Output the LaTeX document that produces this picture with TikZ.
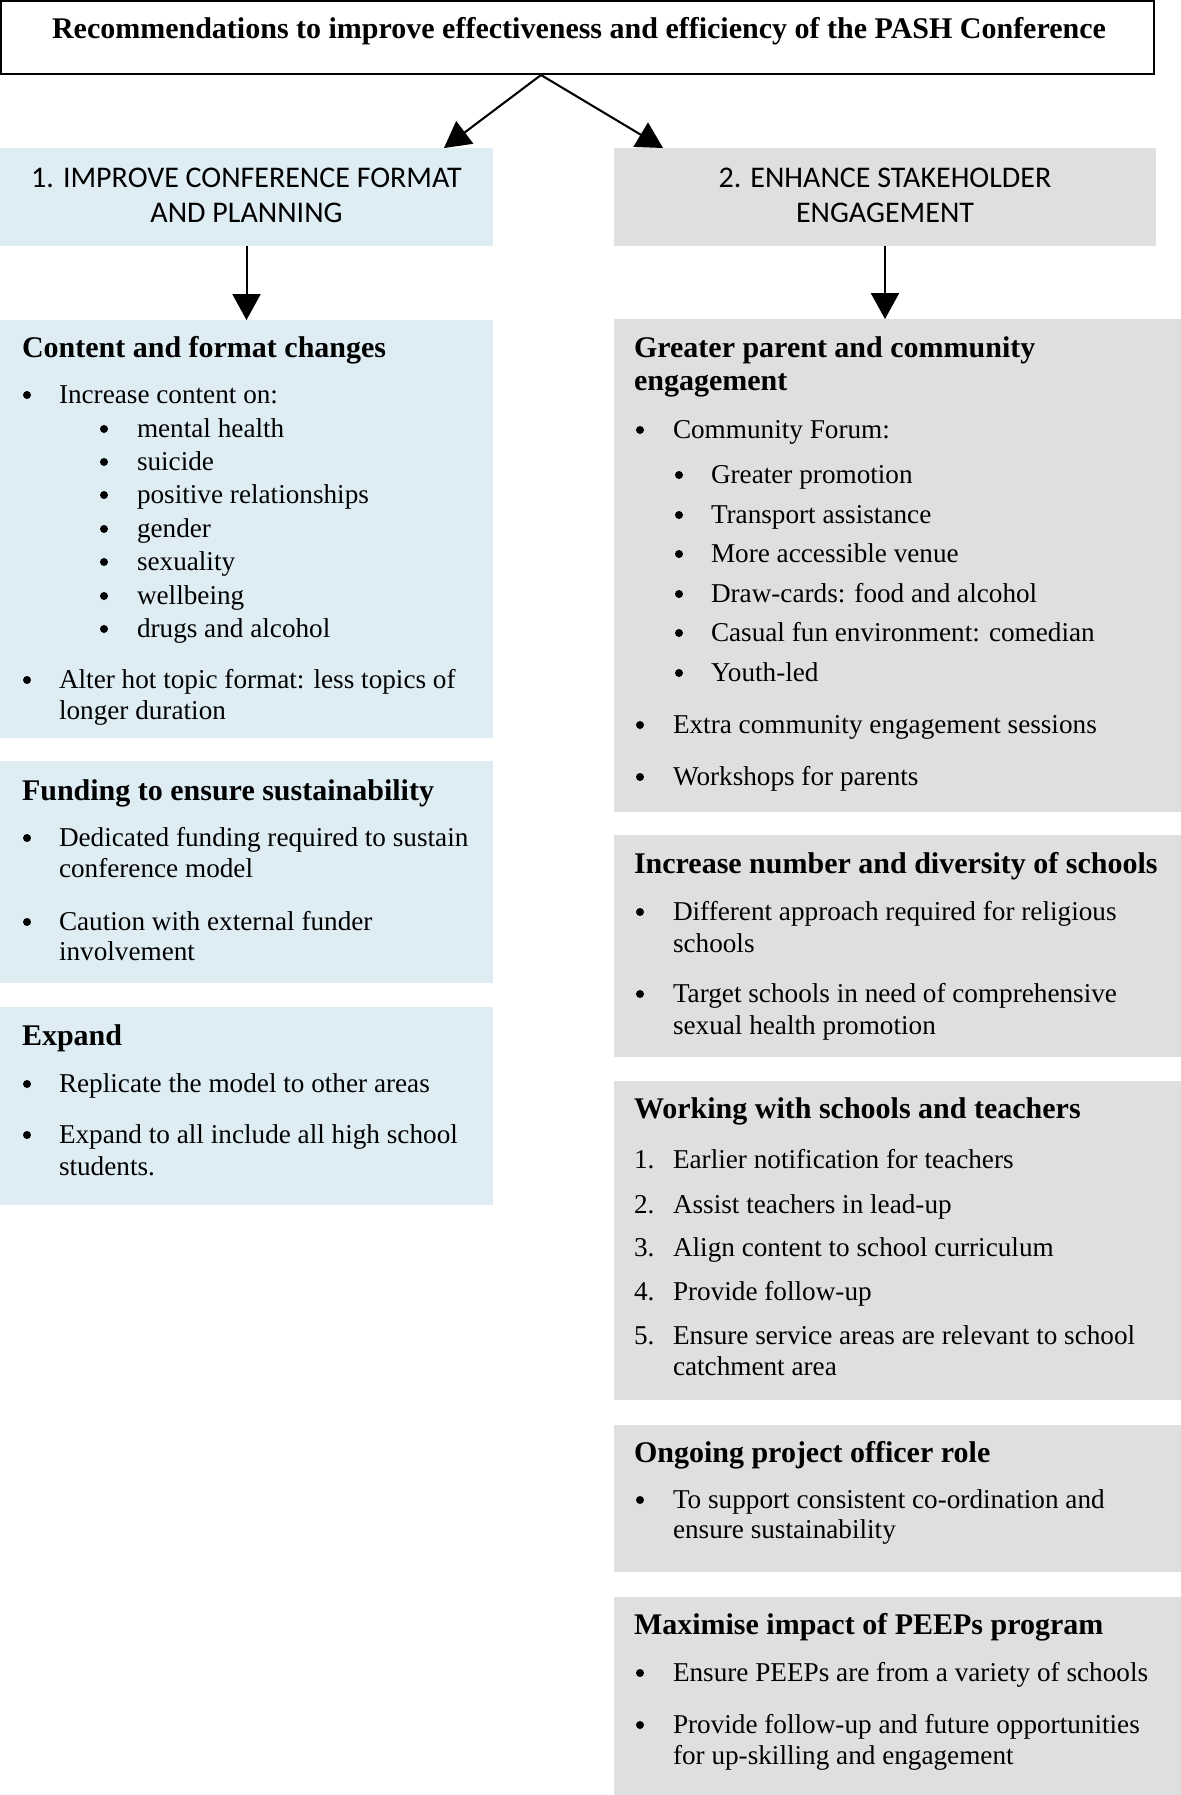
\documentclass[tikz,border=0pt]{standalone}
\usepackage{fontspec}
\setmainfont{Liberation Serif}
\newfontfamily\hdrfont{Carlito}
\usetikzlibrary{arrows.meta,calc}
\definecolor{boxblue}{RGB}{222,237,244}
\definecolor{boxgrey}{RGB}{223,223,223}
\newcommand\Itm[5]{\node[dot] (#1b) at (#2,#4-8) {}; \node[txt] (#1) at (#3,#4) {#5};}
\begin{document}
\begin{tikzpicture}[x=0.5pt,y=-0.5pt,
  txt/.style={anchor=base west,inner sep=0pt,outer sep=0pt,font=\fontsize{13.6}{16}\selectfont},
  dot/.style={circle,fill=black,draw=none,inner sep=0pt,minimum size=4pt},
  hd/.style={anchor=base west,inner sep=0pt,outer sep=0pt,font=\bfseries\fontsize{15}{18}\selectfont},
  hdr/.style={anchor=base,inner sep=0pt,outer sep=0pt,font=\hdrfont\fontsize{15}{18}\selectfont},
  panel/.style={rectangle,anchor=north west,inner sep=0pt,outer sep=0pt,draw=none},
  bluebox/.style={panel,fill=boxblue},
  greybox/.style={panel,fill=boxgrey},
  arr/.style={line width=1pt,-{Triangle[length=13pt,width=14pt]}},
  shadow/.style={arr,draw=black!35,shift={(2,2)},opacity=0.6}]
\useasboundingbox (0,0) rectangle (1181,1795);
% top box
\node[panel,draw=black,line width=1pt,minimum width=576.5pt,minimum height=36.5pt] (top) at (1,1) {};
\node[anchor=base,inner sep=0pt,font=\bfseries\fontsize{15}{18}\selectfont] (ttl) at (579,38) {Recommendations to improve effectiveness and efficiency of the PASH Conference};
% headers
\node[bluebox,minimum width=246.5pt,minimum height=49pt] (h1) at (0,148) {};
\node[greybox,minimum width=271pt,minimum height=49pt] (h2) at (614,148) {};
\node[hdr] (h1a) at (246.5,187) {1. IMPROVE CONFERENCE FORMAT};
\node[hdr] (h1b) at (246.5,222) {AND PLANNING};
\node[hdr] (h2a) at (885,187) {2. ENHANCE STAKEHOLDER};
\node[hdr] (h2b) at (885,222) {ENGAGEMENT};
% panels
\node[bluebox,minimum width=246.5pt,minimum height=209pt] (c1) at (0,320) {};
\node[bluebox,minimum width=246.5pt,minimum height=111pt] (c2) at (0,761) {};
\node[bluebox,minimum width=246.5pt,minimum height=99pt] (c3) at (0,1007) {};
\node[greybox,minimum width=283.5pt,minimum height=246.5pt] (r1) at (614,319) {};
\node[greybox,minimum width=283.5pt,minimum height=111pt] (r2) at (614,835) {};
\node[greybox,minimum width=283.5pt,minimum height=159.5pt] (r3) at (614,1081) {};
\node[greybox,minimum width=283.5pt,minimum height=73.5pt] (r4) at (614,1425) {};
\node[greybox,minimum width=283.5pt,minimum height=99pt] (r5) at (614,1597) {};
% arrows
\coordinate (apex) at (541,75);
\draw[shadow] (apex) -- ($(h1.north east)+(-49,0)$);
\draw[shadow] (apex) -- ($(h2.north west)+(49,0)$);
\draw[shadow] (h1.south) -- (c1.north);
\draw[shadow] (h2.south) -- (h2.south |- r1.north);
\draw[arr] (apex) -- ($(h1.north east)+(-49,0)$);
\draw[arr] (apex) -- ($(h2.north west)+(49,0)$);
\draw[arr] (h1.south) -- (c1.north);
\draw[arr] (h2.south) -- (h2.south |- r1.north);
% left column texts
\node[hd] (c1h) at (22,357) {Content and format changes};
\Itm{c1i}{27}{59}{403}{Increase content on:}
\Itm{c1s1}{104}{137}{437}{mental health}
\Itm{c1s2}{104}{137}{470}{suicide}
\Itm{c1s3}{104}{137}{503}{positive relationships}
\Itm{c1s4}{104}{137}{537}{gender}
\Itm{c1s5}{104}{137}{570}{sexuality}
\Itm{c1s6}{104}{137}{604}{wellbeing}
\Itm{c1s7}{104}{137}{637}{drugs and alcohol}
\Itm{c1j}{27}{59}{688}{Alter hot topic format: less topics of}
\node[txt] (c1j2) at (59,719) {longer duration};
\node[hd] (c2h) at (22,800) {Funding to ensure sustainability};
\Itm{c2i}{27}{59}{846}{Dedicated funding required to sustain}
\node[txt] (c2i2) at (59,877) {conference model};
\Itm{c2j}{27}{59}{930}{Caution with external funder}
\node[txt] (c2j2) at (59,960) {involvement};
\node[hd] (c3h) at (22,1045) {Expand};
\Itm{c3i}{27}{59}{1092}{Replicate the model to other areas}
\Itm{c3j}{27}{59}{1143}{Expand to all include all high school}
\node[txt] (c3j2) at (59,1175) {students.};
% right column texts
\node[hd] (r1h) at (634,357) {Greater parent and community};
\node[hd] (r1h2) at (634,390) {engagement};
\Itm{r1i}{640}{673}{438}{Community Forum:}
\Itm{r1s1}{679}{711}{483}{Greater promotion}
\Itm{r1s2}{679}{711}{523}{Transport assistance}
\Itm{r1s3}{679}{711}{562}{More accessible venue}
\Itm{r1s4}{679}{711}{602}{Draw-cards: food and alcohol}
\Itm{r1s5}{679}{711}{641}{Casual fun environment: comedian}
\Itm{r1s6}{679}{711}{681}{Youth-led}
\Itm{r1j}{640}{673}{733}{Extra community engagement sessions}
\Itm{r1k}{640}{673}{785}{Workshops for parents}
\node[hd] (r2h) at (634,873) {Increase number and diversity of schools};
\Itm{r2i}{640}{673}{920}{Different approach required for religious}
\node[txt] (r2i2) at (673,952) {schools};
\Itm{r2j}{640}{673}{1002}{Target schools in need of comprehensive}
\node[txt] (r2j2) at (673,1034) {sexual health promotion};
\node[hd] (r3h) at (634,1118) {Working with schools and teachers};
\node[txt] (r3n1) at (634,1168) {1.}; \node[txt] (r3t1) at (673,1168) {Earlier notification for teachers};
\node[txt] (r3n2) at (634,1213) {2.}; \node[txt] (r3t2) at (673,1213) {Assist teachers in lead-up};
\node[txt] (r3n3) at (634,1256) {3.}; \node[txt] (r3t3) at (673,1256) {Align content to school curriculum};
\node[txt] (r3n4) at (634,1300) {4.}; \node[txt] (r3t4) at (673,1300) {Provide follow-up};
\node[txt] (r3n5) at (634,1344) {5.}; \node[txt] (r3t5) at (673,1344) {Ensure service areas are relevant to school};
\node[txt] (r3t6) at (673,1375) {catchment area};
\node[hd] (r4h) at (634,1462) {Ongoing project officer role};
\Itm{r4i}{640}{673}{1508}{To support consistent co-ordination and}
\node[txt] (r4i2) at (673,1538) {ensure sustainability};
\node[hd] (r5h) at (634,1634) {Maximise impact of PEEPs program};
\Itm{r5i}{640}{673}{1681}{Ensure PEEPs are from a variety of schools}
\Itm{r5j}{640}{673}{1733}{Provide follow-up and future opportunities}
\node[txt] (r5j2) at (673,1764) {for up-skilling and engagement};
\end{tikzpicture}
\end{document}
